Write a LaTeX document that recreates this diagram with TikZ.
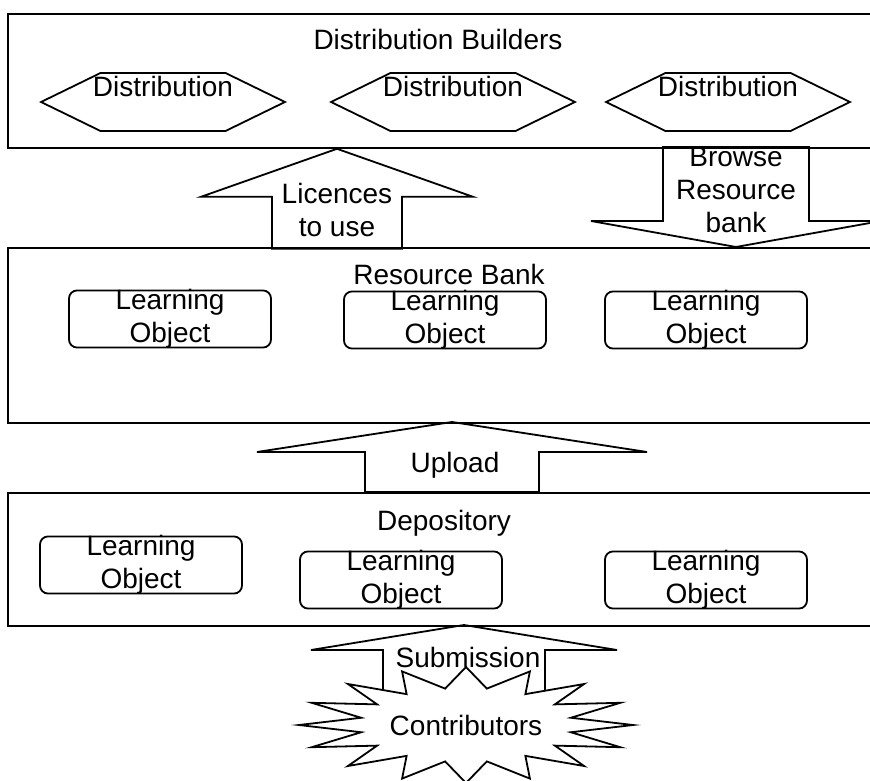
\documentclass[tikz,border=0pt]{standalone}
\usepackage{fontspec}
\setmainfont{Liberation Sans}
\usetikzlibrary{shapes, positioning}

\begin{document}
\begin{tikzpicture}[x=1pt, y=-1pt, line width=1.8pt,
    every node/.style={font=\fontsize{28}{33}\selectfont, inner sep=0pt},
    layer/.style={draw, anchor=north west, minimum width=880pt},
    title/.style={anchor=base},
    lobox/.style={draw, rounded corners=8pt, align=center, minimum width=202pt, inner ysep=-1pt},
    hexa/.style={draw, signal, signal to=west and east, signal pointer angle=52, text height=24pt, text depth=34pt}]
  \useasboundingbox (0,0) rectangle (870,781);

  % the three layers
  \node (Builders) [layer, minimum height=134pt] at (7,13) {};
  \node (ResBank) [layer, minimum height=175pt] at (7,247) {};
  \node (Depository) [layer, minimum height=133pt] at (7,492) {};

  \node (BuildersTitle) [title] at (438,50) {Distribution Builders};
  \node (DistA) [hexa] at (163,102) {\makebox[125pt]{Distribution}};
  \node (DistB) [hexa] at (453,102) {\makebox[125pt]{Distribution}};
  \node (DistC) [hexa] at (728,102) {\makebox[125pt]{Distribution}};

  \node (ResBankTitle) [title] at (449,284) {Resource Bank};
  \node (BankA) [lobox] at (170,319) {Learning\\Object};
  \node (BankB) [lobox] at (445,320) {Learning\\Object};
  \node (BankC) [lobox] at (706,320) {Learning\\Object};

  \node (DepositoryTitle) [title] at (444,530) {Depository};
  \node (DepoA) [lobox] at (141,565) {Learning\\Object};
  \node (DepoB) [lobox] at (401,580) {Learning\\Object};
  \node (DepoC) [lobox] at (706,580) {Learning\\Object};

  % licences to use
  \node (Licences) [align=center] at (337,209.5) {Licences\\to use};
  \coordinate (LicTip) at (Licences |- Builders.south);
  \draw (LicTip) -- ++(136,48) -- ++(-71,0) -- ++(0,52) -- ++(-130,0) -- ++(0,-52) -- ++(-71,0) -- cycle;

  % browse
  \node (Browse) [align=center] at (736,190) {Browse\\Resource\\bank};
  \coordinate (BrowseTip) at (Browse |- ResBank.north);
  \draw (BrowseTip) -- ++(145,-26) -- ++(-72,0) -- ++(0,-74) -- ++(-146,0) -- ++(0,74) -- ++(-72,0) -- cycle;

  % upload
  \node (Upload) [title] at (455,472) {Upload};
  \coordinate (UpTip) at (452,422);
  \draw (UpTip) -- ++(195,30) -- ++(-108,0) -- ++(0,40) -- ++(-174,0) -- ++(0,-40) -- ++(-108,0) -- cycle;

  % submission
  \coordinate (SubTip) at (464,625);
  \draw (SubTip) -- ++(153,25) -- ++(-72,0) -- ++(0,60) -- ++(-162,0) -- ++(0,-60) -- ++(-72,0) -- cycle;
  \coordinate (StarCentre) at (466,725);
  \draw[fill=white, shift={(StarCentre)}] plot[samples=33, domain=0:360, variable=\t]
    ({167*(0.82+0.18*cos(16*\t))*cos(\t)}, {58*(0.82+0.18*cos(16*\t))*sin(\t)}) -- cycle;
  \node (Contributors) at (StarCentre) {Contributors};
  \node (Submission) [title] at (468,667) {Submission};
\end{tikzpicture}
\end{document}
